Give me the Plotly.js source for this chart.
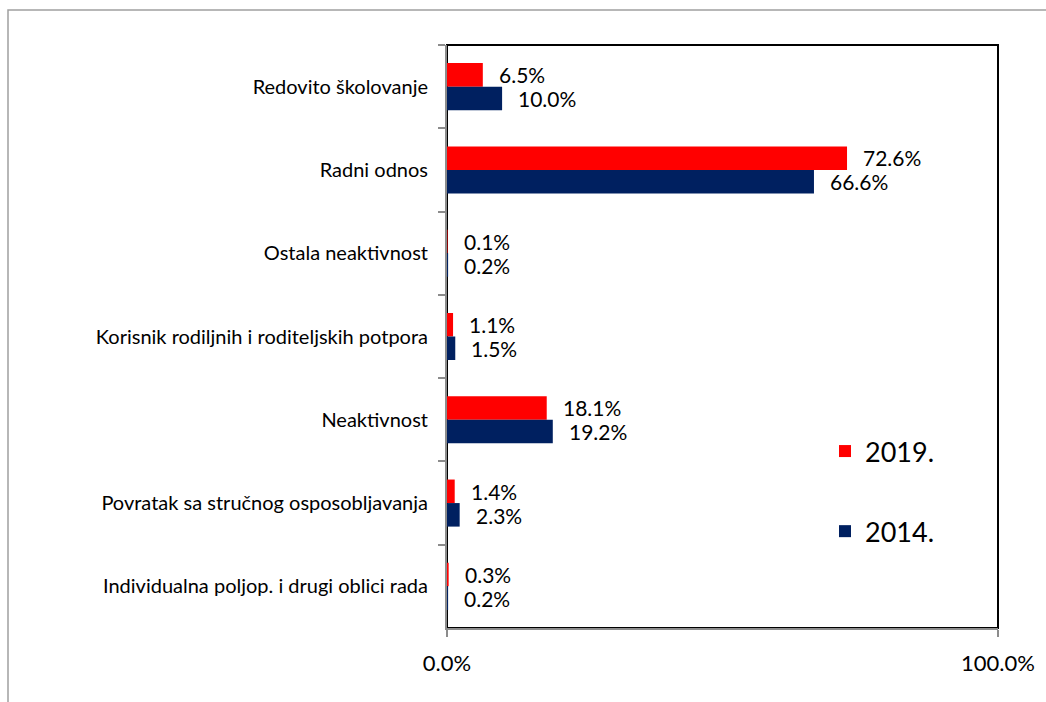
<!DOCTYPE html>
<html>
<head>
<meta charset="utf-8">
<script src="https://cdn.plot.ly/plotly-3.0.1.min.js"></script>
<style>html,body{margin:0;padding:0;background:#fff;}#chart{width:1046px;height:702px;}</style>
</head>
<body>
<div id="chart"></div>
<script>
const categories = [
  "Redovito školovanje",
  "Radni odnos",
  "Ostala neaktivnost",
  "Korisnik rodiljnih i roditeljskih potpora",
  "Neaktivnost",
  "Povratak sa stručnog osposobljavanja",
  "Individualna poljop. i drugi oblici rada"
];
const values2019 = [6.5, 72.6, 0.1, 1.1, 18.1, 1.4, 0.3];
const values2014 = [10.0, 66.6, 0.2, 1.5, 19.2, 2.3, 0.2];
const seriesNames = ["2019.", "2014."];
const xTickVals = [0, 100];
const xTickText = ["0.0%", "100.0%"];

const FONT = "Lato, 'Noto Sans', sans-serif";
const RED = "#FF0000", NAVY = "#002060";

const traces = [
  {type: "bar", orientation: "h", name: seriesNames[0], y: categories, x: values2019,
   marker: {color: RED}, legendgroup: "a", hoverinfo: "x+y"},
  {type: "bar", orientation: "h", name: seriesNames[1], y: categories, x: values2014,
   marker: {color: NAVY}, legendgroup: "b", hoverinfo: "x+y"}
];

const annotations = [];
[[values2019, -12], [values2014, 12]].forEach(([vals, dy]) => {
  vals.forEach((v, i) => {
    annotations.push({x: v, y: categories[i], xref: "x", yref: "y", text: v.toFixed(1) + "%",
      showarrow: false, xanchor: "left", yanchor: "middle", xshift: 14, yshift: -dy,
      font: {family: FONT, size: 21, color: "#000"}});
  });
});

const L = 447, R = 48, T = 45, B = 74, W = 1046, H = 702;
const pw = W - L - R, ph = H - T - B;
const px = v => (v - L) / pw, py = v => (H - B - v) / ph;

const layout = {
  width: W, height: H,
  margin: {l: L, r: R, t: T, b: B, pad: 0},
  paper_bgcolor: "#fff", plot_bgcolor: "#fff",
  barmode: "group", bargap: 0.435, bargroupgap: 0,
  font: {family: FONT, color: "#000"},
  showlegend: true,
  legend: {x: px(825), y: py(427), xanchor: "left", yanchor: "top",
    font: {family: FONT, size: 27, color: "#000"}, traceorder: "grouped",
    tracegroupgap: 42, bgcolor: "rgba(0,0,0,0)"},
  xaxis: {range: [0, 100], tickvals: xTickVals, ticktext: xTickText, showgrid: false, zeroline: false,
    showline: true, linecolor: "#8c8c8c", linewidth: 2, ticks: "outside", ticklen: 7,
    tickcolor: "#8c8c8c", tickwidth: 2, ticklabelstandoff: 8,
    tickfont: {family: FONT, size: 22, color: "#000"}, fixedrange: true},
  yaxis: {type: "category", autorange: "reversed", showgrid: false, zeroline: false,
    showline: true, linecolor: "#8c8c8c", linewidth: 2, ticks: "outside", ticklen: 7,
    tickcolor: "#8c8c8c", tickwidth: 2, tickson: "boundaries", ticklabelstandoff: 13,
    tickfont: {family: FONT, size: 20, color: "#000"}, fixedrange: true},
  shapes: [
    {type: "rect", xref: "paper", yref: "paper", x0: 0, x1: 1, y0: 0, y1: 1,
     line: {color: "#000", width: 2}, layer: "below"},
    {type: "rect", xref: "paper", yref: "paper", x0: px(8), x1: px(1060), y0: py(715), y1: py(10),
     line: {color: "#a0a0a0", width: 1.5}, layer: "below"}
  ],
  annotations: annotations
};

Plotly.newPlot("chart", traces, layout, {displayModeBar: false, staticPlot: true});
</script>
</body>
</html>
